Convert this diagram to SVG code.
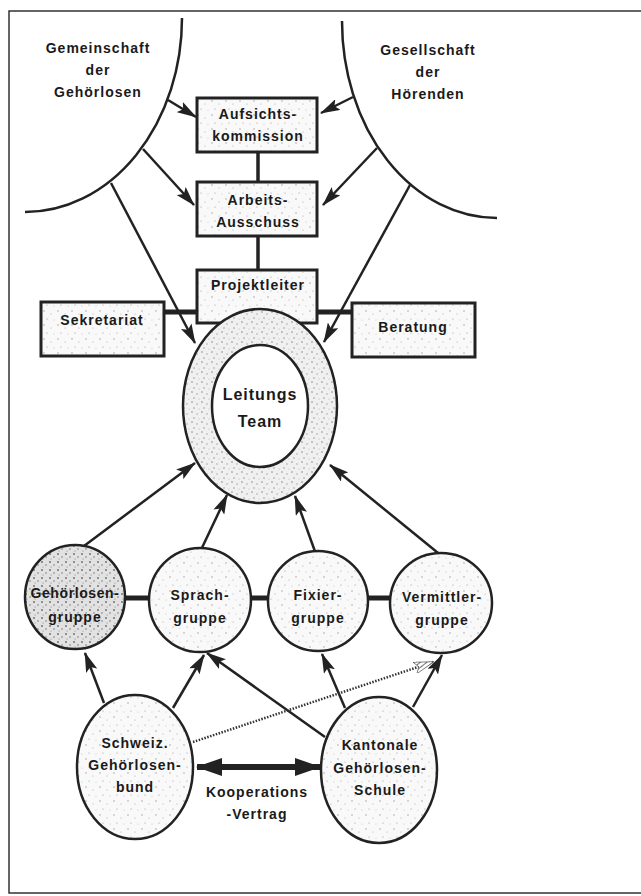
<svg xmlns="http://www.w3.org/2000/svg" width="641" height="896" viewBox="0 0 641 896">
<style>
text{font-family:"Liberation Sans",Arial,sans-serif;font-weight:bold;font-size:14px;letter-spacing:1px;fill:#1a1a1a;text-anchor:middle}
.box{stroke:#222;stroke-width:3;fill:url(#stip)}
.el{stroke:#222;stroke-width:2.5;fill:url(#stip)}
.ln{stroke:#222;stroke-width:2.5;fill:none}
.thick{stroke:#222;stroke-width:5;fill:none}
.arr{stroke:#222;stroke-width:2.5;fill:none;marker-end:url(#ah)}
</style>
<defs>
<pattern id="stip" width="14" height="14" patternUnits="userSpaceOnUse">
<rect width="14" height="14" fill="#f9f9f9"/>
<circle cx="2" cy="3" r="0.7" fill="#999"/><circle cx="9" cy="6" r="0.6" fill="#aaa"/><circle cx="5" cy="11" r="0.6" fill="#999"/><circle cx="12" cy="12" r="0.5" fill="#bbb"/>
</pattern>
<pattern id="stip2" width="10" height="10" patternUnits="userSpaceOnUse">
<rect width="10" height="10" fill="#f0f0f0"/>
<circle cx="2" cy="2" r="0.8" fill="#888"/><circle cx="7" cy="4" r="0.7" fill="#999"/><circle cx="4" cy="8" r="0.7" fill="#888"/><circle cx="9" cy="9" r="0.5" fill="#aaa"/>
</pattern>
<pattern id="stip3" width="8" height="8" patternUnits="userSpaceOnUse">
<rect width="8" height="8" fill="#e2e2e2"/>
<circle cx="2" cy="2" r="0.9" fill="#666"/><circle cx="6" cy="5" r="0.8" fill="#777"/><circle cx="3" cy="7" r="0.6" fill="#888"/>
</pattern>
<pattern id="hatch" width="4" height="4" patternUnits="userSpaceOnUse" patternTransform="rotate(70)">
<rect width="4" height="4" fill="#fff"/><line x1="0" y1="0" x2="0" y2="4" stroke="#333" stroke-width="1.4"/>
</pattern>
<marker id="ah" viewBox="0 0 20 12" refX="19" refY="6" markerWidth="20" markerHeight="12" markerUnits="userSpaceOnUse" orient="auto">
<path d="M0,0 L20,6 L0,12 L4,6 z" fill="#222"/>
</marker>
<marker id="hh" viewBox="0 0 20 12" refX="19" refY="6" markerWidth="20" markerHeight="12" markerUnits="userSpaceOnUse" orient="auto">
<path d="M0,0 L20,6 L0,12 L4,6 z" fill="url(#hatch)" stroke="#444" stroke-width="0.6"/>
</marker>
<marker id="big" viewBox="0 0 26 18" refX="25" refY="9" markerWidth="26" markerHeight="18" markerUnits="userSpaceOnUse" orient="auto-start-reverse">
<path d="M0,0 L26,9 L0,18 z" fill="#222"/>
</marker>
</defs>

<rect x="9" y="11" width="700" height="882" fill="none" stroke="#333" stroke-width="1.5"/>

<g id="connectors">
<path class="ln" d="M182,18 A157,194 0 0 1 25,212"/>
<path class="ln" d="M342,21 A155,197 0 0 0 497,218"/>
<line class="arr" x1="168" y1="100" x2="196" y2="117"/>
<line class="arr" x1="143" y1="149" x2="194" y2="205"/>
<line class="arr" x1="353" y1="97" x2="321" y2="113"/>
<line class="arr" x1="377" y1="148" x2="323" y2="205"/>
<line class="arr" x1="111" y1="183" x2="195" y2="343"/>
<line class="arr" x1="410" y1="185" x2="324" y2="342"/>
<line class="ln" x1="258" y1="152" x2="258" y2="182" style="stroke-width:3.5"/>
<line class="ln" x1="258" y1="236" x2="258" y2="270" style="stroke-width:3.5"/>
<line class="thick" x1="164" y1="312" x2="197" y2="312"/>
<line class="thick" x1="317" y1="312" x2="352" y2="312"/>
<line class="thick" x1="124" y1="598" x2="150" y2="598"/>
<line class="thick" x1="250" y1="598" x2="269" y2="598"/>
<line class="thick" x1="368" y1="598" x2="391" y2="598"/>
<line class="arr" x1="80" y1="549" x2="195" y2="463"/>
<line class="arr" x1="200" y1="552" x2="227" y2="495"/>
<line class="arr" x1="317" y1="557" x2="295" y2="496"/>
<line class="arr" x1="443" y1="557" x2="330" y2="465"/>
<line class="arr" x1="104" y1="703" x2="85" y2="653"/>
<line class="arr" x1="173" y1="708" x2="204" y2="655"/>
<line class="arr" x1="325" y1="737" x2="207" y2="653"/>
<line class="arr" x1="345" y1="708" x2="322" y2="654"/>
<line class="arr" x1="413" y1="707" x2="442" y2="655"/>
<line x1="193" y1="742" x2="433" y2="662" stroke="#333" stroke-width="2.5" stroke-dasharray="1.5,1.5" marker-end="url(#hh)"/>
<line x1="197" y1="767" x2="320" y2="767" stroke="#222" stroke-width="6" marker-start="url(#big)" marker-end="url(#big)"/>
</g>

<g id="gemeinschaft">
<text x="98" y="53">Gemeinschaft</text><text x="98" y="75">der</text><text x="98" y="97">Gehörlosen</text>
</g>
<g id="gesellschaft">
<text x="428" y="55">Gesellschaft</text><text x="428" y="77">der</text><text x="428" y="99">Hörenden</text>
</g>

<g id="aufsicht">
<rect class="box" x="197" y="98" width="120" height="54"/>
<text x="258" y="119">Aufsichts-</text><text x="258" y="141">kommission</text>
</g>
<g id="arbeits">
<rect class="box" x="197" y="182" width="120" height="54"/>
<text x="258" y="205">Arbeits-</text><text x="258" y="227">Ausschuss</text>
</g>
<g id="projektleiter">
<rect class="box" x="197" y="270" width="120" height="53"/>
<text x="258" y="290">Projektleiter</text>
</g>
<g id="sekretariat">
<rect class="box" x="41" y="302" width="123" height="54"/>
<text x="102" y="325">Sekretariat</text>
</g>
<g id="beratung">
<rect class="box" x="352" y="303" width="123" height="54"/>
<text x="413" y="332">Beratung</text>
</g>

<g id="leitungsteam">
<ellipse cx="260" cy="406" rx="77" ry="97" stroke="#222" stroke-width="2.5" fill="url(#stip2)"/>
<ellipse cx="260" cy="406" rx="48" ry="61" stroke="#222" stroke-width="2.5" fill="#fff"/>
<text x="260" y="400" style="font-size:16px">Leitungs</text><text x="260" y="427" style="font-size:16px">Team</text>
</g>

<g id="gehoerlosengruppe">
<ellipse cx="75" cy="597" rx="50" ry="52" stroke="#222" stroke-width="2.5" fill="url(#stip3)"/>
<text x="75" y="598" style="letter-spacing:0.6px">Gehörlosen-</text><text x="75" y="622">gruppe</text>
</g>
<g id="sprachgruppe">
<ellipse class="el" cx="200" cy="600" rx="51" ry="52"/>
<text x="200" y="600">Sprach-</text><text x="200" y="623">gruppe</text>
</g>
<g id="fixiergruppe">
<ellipse class="el" cx="318" cy="601" rx="50" ry="50"/>
<text x="318" y="600">Fixier-</text><text x="318" y="623">gruppe</text>
</g>
<g id="vermittlergruppe">
<ellipse class="el" cx="441" cy="603" rx="51" ry="50"/>
<text x="442" y="602">Vermittler-</text><text x="442" y="625">gruppe</text>
</g>

<g id="bund">
<ellipse class="el" cx="135" cy="767" rx="58" ry="72"/>
<text x="135" y="748">Schweiz.</text><text x="135" y="770">Gehörlosen-</text><text x="135" y="792">bund</text>
</g>
<g id="schule">
<ellipse class="el" cx="379" cy="770" rx="58" ry="73"/>
<text x="380" y="750">Kantonale</text><text x="380" y="773">Gehörlosen-</text><text x="380" y="795">Schule</text>
</g>
<g id="kooperation">
<text x="257" y="797">Kooperations</text><text x="257" y="819">-Vertrag</text>
</g>
</svg>
